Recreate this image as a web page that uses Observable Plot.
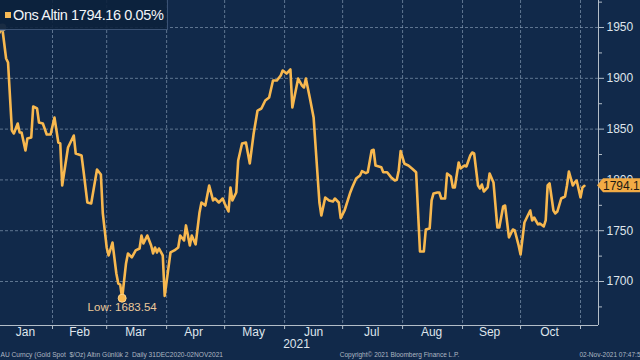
<!DOCTYPE html>
<html>
<head>
<meta charset="utf-8">
<script src="https://cdn.jsdelivr.net/npm/d3@7"></script>
<script src="https://cdn.jsdelivr.net/npm/@observablehq/plot@0.6"></script>
<style>
  html, body { margin: 0; padding: 0; background: #11294a; }
  #wrap { position: relative; width: 640px; height: 360px; overflow: hidden; background: #11294a;
          font-family: "Liberation Sans", Arial, sans-serif; }
  #wrap svg { position: absolute; left: 0; top: 0; }
  #legend { position: absolute; left: 0; top: 0; width: 168px; height: 30px; box-sizing: border-box;
            background: rgba(12, 33, 60, 0.9); border-right: 1px solid #3a5274; border-bottom: 1px solid #3a5274;
            color: #f3f5f8; font-size: 14.5px; letter-spacing: -0.4px; line-height: 30px; white-space: nowrap; z-index: 2; }
  #legend .sw { display: inline-block; width: 6px; height: 6px; background: #f7ba56; margin: 0 2px 0 5px; vertical-align: 2px; }
</style>
</head>
<body>
<div id="wrap"><div id="legend"></div></div>
<script>
// ---- data ----
const seriesName = "Ons Altin";
const lastValue = 1794.16;
const lastChange = "0.05%";
const lowLabel = "Low: 1683.54";

const dates = [
  "2020-12-31","2021-01-04","2021-01-06","2021-01-08","2021-01-09","2021-01-11","2021-01-12","2021-01-14","2021-01-15","2021-01-16",
  "2021-01-18","2021-01-19","2021-01-21","2021-01-22","2021-01-24","2021-01-25","2021-01-27","2021-01-29","2021-01-31","2021-02-02",
  "2021-02-04","2021-02-05","2021-02-06","2021-02-09","2021-02-12","2021-02-13","2021-02-16","2021-02-17","2021-02-19","2021-02-21",
  "2021-02-24","2021-02-26","2021-02-27","2021-03-01","2021-03-02","2021-03-04","2021-03-06","2021-03-07","2021-03-08","2021-03-09",
  "2021-03-11","2021-03-12","2021-03-14","2021-03-16","2021-03-18","2021-03-19","2021-03-20","2021-03-22","2021-03-24","2021-03-25",
  "2021-03-26","2021-03-27","2021-03-28","2021-03-30","2021-03-31","2021-04-03","2021-04-05","2021-04-07","2021-04-08","2021-04-10",
  "2021-04-11","2021-04-13","2021-04-14","2021-04-16","2021-04-18","2021-04-19","2021-04-21","2021-04-23","2021-04-25","2021-04-26",
  "2021-04-28","2021-04-30","2021-05-01","2021-05-03","2021-05-04","2021-05-05","2021-05-07","2021-05-08","2021-05-10","2021-05-12",
  "2021-05-14","2021-05-16","2021-05-18","2021-05-20","2021-05-22","2021-05-24","2021-05-26","2021-05-28","2021-05-30","2021-05-31",
  "2021-06-02","2021-06-04","2021-06-05","2021-06-08","2021-06-10","2021-06-11","2021-06-12","2021-06-14","2021-06-16","2021-06-19",
  "2021-06-20","2021-06-22","2021-06-24","2021-06-26","2021-06-27","2021-06-29","2021-06-30","2021-07-02","2021-07-05","2021-07-06",
  "2021-07-08","2021-07-10","2021-07-11","2021-07-13","2021-07-14","2021-07-16","2021-07-17","2021-07-18","2021-07-21","2021-07-22",
  "2021-07-24","2021-07-26","2021-07-28","2021-07-29","2021-07-30","2021-07-31","2021-08-02","2021-08-04","2021-08-06","2021-08-08",
  "2021-08-10","2021-08-12","2021-08-13","2021-08-15","2021-08-16","2021-08-17","2021-08-19","2021-08-20","2021-08-21","2021-08-23",
  "2021-08-24","2021-08-26","2021-08-27","2021-08-28","2021-08-30","2021-08-31","2021-09-02","2021-09-03","2021-09-05","2021-09-06",
  "2021-09-07","2021-09-09","2021-09-10","2021-09-11","2021-09-12","2021-09-14","2021-09-15","2021-09-17","2021-09-19","2021-09-20",
  "2021-09-22","2021-09-23","2021-09-25","2021-09-27","2021-09-28","2021-09-30","2021-10-01","2021-10-03","2021-10-04","2021-10-06",
  "2021-10-07","2021-10-08","2021-10-10","2021-10-11","2021-10-13","2021-10-14","2021-10-15","2021-10-16","2021-10-18","2021-10-19",
  "2021-10-20","2021-10-22","2021-10-24","2021-10-25","2021-10-26","2021-10-28","2021-10-29","2021-10-30","2021-11-01","2021-11-02",
  "2021-11-03"
];
const prices = [
  1895, 1943, 1950, 1919.5, 1915.6, 1848.6, 1845.7, 1855.5, 1846.7, 1846.7,
  1829, 1840.8, 1841.8, 1872.3, 1870.3, 1856.5, 1855.5, 1844.7, 1844.7, 1861.4,
  1836.8, 1835.9, 1794.5, 1831.9, 1843.7, 1826, 1824, 1809.3, 1777.8, 1776.8,
  1810.3, 1805.4, 1767, 1733.5, 1725.6, 1738.4, 1707.9, 1698, 1697, 1683.54,
  1717.8, 1727.6, 1723.7, 1730.6, 1732.5, 1745.3, 1737.5, 1745.3, 1735.5, 1727.6,
  1733.5, 1728.6, 1732.5, 1725.6, 1685.9, 1728.6, 1730.6, 1733.5, 1745.3, 1740.4,
  1755.2, 1735.5, 1745.3, 1736.5, 1768, 1777.8, 1774.8, 1794.5, 1779.8, 1781.7,
  1777.8, 1781.7, 1776.8, 1768.9, 1792.6, 1779.8, 1787.6, 1819.1, 1835.9, 1836.8,
  1816.2, 1845.7, 1868.3, 1870.3, 1878.2, 1881.1, 1897.8, 1897.8, 1902.8, 1907.7,
  1904.7, 1908.7, 1871.3, 1899.8, 1892.9, 1891, 1899.8, 1881.1, 1861.4, 1777.8,
  1765, 1782.7, 1779.8, 1778.8, 1781.7, 1777.8, 1762.3, 1769.9, 1787.9, 1792.8,
  1801.4, 1804.4, 1808.6, 1806.6, 1807.6, 1829, 1829.7, 1814.2, 1812.5, 1807.6,
  1807.6, 1802.7, 1799.4, 1800.1, 1809.3, 1828.3, 1815.9, 1814.2, 1811, 1807.6,
  1729.6, 1729.6, 1751.2, 1752.2, 1779.8, 1786.7, 1787.6, 1787.6, 1781.7, 1781.7,
  1806.3, 1803.4, 1792.6, 1792.6, 1817.2, 1811.3, 1814.2, 1813.2, 1824, 1827,
  1826, 1794.5, 1791.6, 1795.5, 1788.6, 1792.6, 1806.3, 1797.5, 1753.2, 1753.2,
  1773.9, 1774.8, 1743.4, 1751.2, 1750.2, 1735.5, 1726.6, 1758.1, 1762, 1769.9,
  1760.1, 1763, 1756.2, 1757.1, 1754.2, 1760.1, 1794.5, 1796.5, 1769.9, 1767,
  1768.9, 1781.7, 1783.7, 1794.5, 1808.3, 1794.5, 1797.5, 1799.4, 1782.7, 1792.6,
  1794.16
];

const yTicks = [1700, 1750, 1800, 1850, 1900, 1950];
const yMinorTicks = [1675, 1725, 1775, 1825, 1875, 1925, 1975];
const monthStarts = ["2021-02-01","2021-03-01","2021-04-01","2021-05-01","2021-06-01","2021-07-01","2021-08-01","2021-09-01","2021-10-01","2021-11-01"];
const monthLabelDates = ["2021-01-18","2021-02-15","2021-03-16","2021-04-15","2021-05-16","2021-06-16","2021-07-16","2021-08-16","2021-09-15","2021-10-16"];
const monthLabels = ["Jan","Feb","Mar","Apr","May","Jun","Jul","Aug","Sep","Oct"];
const yearLabel = "2021";
const footerLeft = "AU Curncy (Gold Spot  $/Oz) Altın Günlük 2  Daily 31DEC2020-02NOV2021";
const footerMid = "Copyright© 2021 Bloomberg Finance L.P.";
const footerRight = "02-Nov-2021 07:47:5";

// ---- build ----
const parse = d3.utcParse("%Y-%m-%d");
const data = dates.map((d, i) => ({date: parse(d), price: prices[i]}));
const low = data.reduce((a, b) => (b.price < a.price ? b : a));
const high = data.reduce((a, b) => (b.price > a.price ? b : a));
const last = data[data.length - 1];

const xDomain = [new Date(Date.UTC(2021, 0, 5, 2, 24)), new Date(Date.UTC(2021, 10, 10, 7, 12))];
const yDomain = [1656.7, 1976.6];
const labelMap = new Map(monthLabelDates.map((d, i) => [+parse(d), monthLabels[i]]));

const ORANGE = "#f8b84f";
const TEXT = "#dfe5ec";
const AXIS = "#b3bdc8";
const FOOT = "#aeb7c2";
const GRID = {stroke: "#93a8c0", strokeOpacity: 0.6, strokeDasharray: "3,2", strokeWidth: 1};

const chart = Plot.plot({
  width: 640,
  height: 360,
  marginTop: 0,
  marginLeft: 0,
  marginRight: 42,
  marginBottom: 35,
  style: {background: "transparent", color: TEXT, fontFamily: "'Liberation Sans', Arial, sans-serif", fontSize: "11px", overflow: "visible"},
  x: {type: "utc", domain: xDomain, label: null},
  y: {domain: yDomain, label: null},
  marks: [
    Plot.gridX(monthStarts.map(parse), GRID),
    Plot.gridY(yTicks, GRID),
    Plot.ruleY([yDomain[0]], {stroke: AXIS, strokeWidth: 1}),
    Plot.ruleX([xDomain[1]], {stroke: AXIS, strokeWidth: 1}),
    Plot.axisX(monthStarts.map(parse), {tickSize: 4, stroke: AXIS, tickFormat: () => "", label: null}),
    Plot.axisX(monthLabelDates.map(parse), {tickSize: 0, tickPadding: 2, fontSize: 12, fill: TEXT,
      tickFormat: d => labelMap.get(+d), label: null}),
    Plot.axisY(yTicks, {anchor: "right", tickSize: 5, tickPadding: 3, fontSize: 12, fill: TEXT, stroke: AXIS,
      tickFormat: d3.format("d"), label: null}),
    Plot.axisY(yMinorTicks.filter(v => v > yDomain[0] && v < yDomain[1]), {anchor: "right", tickSize: 3, stroke: AXIS, tickFormat: () => "", label: null}),
    Plot.line(data, {x: "date", y: "price", stroke: ORANGE, strokeWidth: 2.6, strokeLinejoin: "round", clip: true}),
    Plot.dot([high], {x: "date", y: "price", r: 4, fill: "#8e8c84"}),
    Plot.dot([low], {x: "date", y: "price", r: 4, fill: ORANGE, stroke: "#ffd58a", strokeWidth: 1}),
    Plot.text([low], {x: "date", y: "price", text: () => lowLabel, dy: 9, fill: "#ecc99a", fontSize: 11.5}),
    Plot.text([yearLabel], {frameAnchor: "bottom", text: d => d, dy: 22, dx: -3, fill: TEXT, fontSize: 12}),
    Plot.text([footerLeft], {frameAnchor: "bottom-left", text: d => d, dy: 31, textAnchor: "start", fill: FOOT, fontSize: 6.6}),
    Plot.text([footerMid], {frameAnchor: "bottom-left", text: d => d, dx: 399, dy: 31, textAnchor: "middle", fill: FOOT, fontSize: 6.5}),
    Plot.text([footerRight], {frameAnchor: "bottom-right", text: d => d, dx: 42, dy: 31, textAnchor: "end", fill: FOOT, fontSize: 6.5})
  ]
});

// last-value tag on the right axis, positioned with the chart's own y scale
const yPos = chart.scale("y").apply(last.price);
const xEdge = chart.scale("x").apply(xDomain[1]);
const svg = d3.select(chart);
const tag = svg.append("g").attr("text-anchor", "start");
tag.append("path")
  .attr("d", `M${xEdge - 1},${yPos} L${xEdge + 5},${yPos - 7} L${xEdge + 50},${yPos - 7} L${xEdge + 50},${yPos + 7} L${xEdge + 5},${yPos + 7} Z`)
  .attr("fill", "#f2ab45");
tag.append("text")
  .attr("x", xEdge + 5).attr("y", yPos).attr("dy", "0.36em")
  .attr("text-anchor", "start")
  .attr("fill", "#1d1a14").attr("font-size", 12)
  .text(last.price.toFixed(2));

document.getElementById("wrap").appendChild(chart);
document.getElementById("legend").innerHTML =
  `<span class="sw"></span>${seriesName} ${last.price.toFixed(2)} ${lastChange}`;
</script>
</body>
</html>
